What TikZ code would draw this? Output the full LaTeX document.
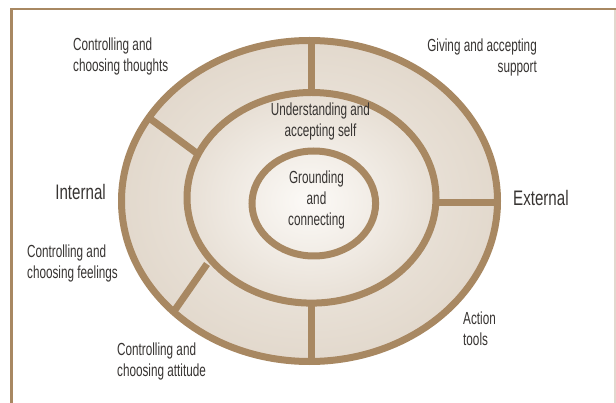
\documentclass[tikz,border=0pt]{standalone}
\usepackage{fontspec}
\setmainfont{Liberation Sans}[FakeStretch=0.67]
\newfontfamily\bigfont{Liberation Sans}[FakeStretch=0.72]
\definecolor{ringc}{RGB}{168,136,98}
\definecolor{txtc}{RGB}{55,52,50}
\definecolor{c0}{RGB}{252,250,247}
\definecolor{c1}{RGB}{232,224,214}
\definecolor{c2}{RGB}{221,210,196}
\definecolor{c3}{RGB}{224,214,201}
\definecolor{edgec}{RGB}{226,216,206}
\pgfdeclareradialshading{rings}{\pgfpoint{0bp}{0bp}}{color(0bp)=(c0); color(16bp)=(c1); color(33bp)=(c2); color(40bp)=(c3); color(50bp)=(c3)}
\begin{document}
\begin{tikzpicture}[x=1pt,y=-1pt,
  ringline/.style={draw=ringc, line width=7pt},
  divider/.style={draw=ringc, line width=7pt, line cap=butt},
  lbl/.style={text=txtc, inner sep=0pt, font=\fontsize{17.5}{21}\selectfont},
  biglbl/.style={text=txtc, inner sep=0pt, font=\bigfont\fontsize{21}{24}\selectfont}]
\useasboundingbox (0,0) rectangle (616,403);
% frame
\coordinate (ftl) at (11.5,9);
\coordinate (ftr) at (616,9);
\coordinate (fbl) at (11.5,403);
\coordinate (rt) at (615,10);
\coordinate (rb) at (615,403);
\draw[edgec, line width=1.2pt] (rt) -- (rb);
\draw[ringc, line width=2.6pt] (10,9) -- (ftr);
\draw[ringc, line width=3pt] (ftl) -- (fbl);
% ellipses
\coordinate (oc) at (309.5,201);
\coordinate (mc) at (311.5,197.8);
\coordinate (ic) at (313.8,203.5);
\shade[shading=rings] (oc) ellipse [x radius=188pt, y radius=160.5pt];
% dividers
\coordinate (t1) at (311,40.5);
\coordinate (t2) at (311,92.5);
\coordinate (b1) at (311,303);
\coordinate (b2) at (311,361.5);
\coordinate (r1) at (436,203);
\coordinate (r2) at (497.5,203);
\coordinate (ul1) at (148.5,117.5);
\coordinate (ul2) at (196.5,153);
\coordinate (ll1) at (207,264);
\coordinate (ll2) at (173.5,312);
\draw[divider] (t1) -- (t2);
\draw[divider] (b1) -- (b2);
\draw[divider] (r1) -- (r2);
\draw[divider] (ul1) -- (ul2);
\draw[divider] (ll1) -- (ll2);
\draw[ringline] (oc) ellipse [x radius=188pt, y radius=160.5pt];
\draw[ringline] (mc) ellipse [x radius=124.5pt, y radius=105.3pt];
\draw[ringline] (ic) ellipse [x radius=61.8pt, y radius=52.5pt];
% labels
\node[lbl, anchor=west, align=left] (thoughts) at (73,56.5) {Controlling and\\choosing thoughts};
\node[lbl, anchor=east, align=right] (support) at (537,57.5) {Giving and accepting\\support};
\node[lbl, align=center] (self) at (320.5,121) {Understanding and\\accepting self};
\node[lbl, align=center] (ground) at (316.5,200) {Grounding\\and\\connecting};
\node[biglbl, anchor=east] (internal) at (106,192) {Internal};
\node[biglbl, anchor=west] (external) at (513,198) {External};
\node[lbl, anchor=west, align=left] (feelings) at (27,263.5) {Controlling and\\choosing feelings};
\node[lbl, anchor=west, align=left] (attitude) at (117,361) {Controlling and\\choosing attitude};
\node[lbl, anchor=west, align=left] (action) at (463,329) {Action\\tools};
\end{tikzpicture}
\end{document}
